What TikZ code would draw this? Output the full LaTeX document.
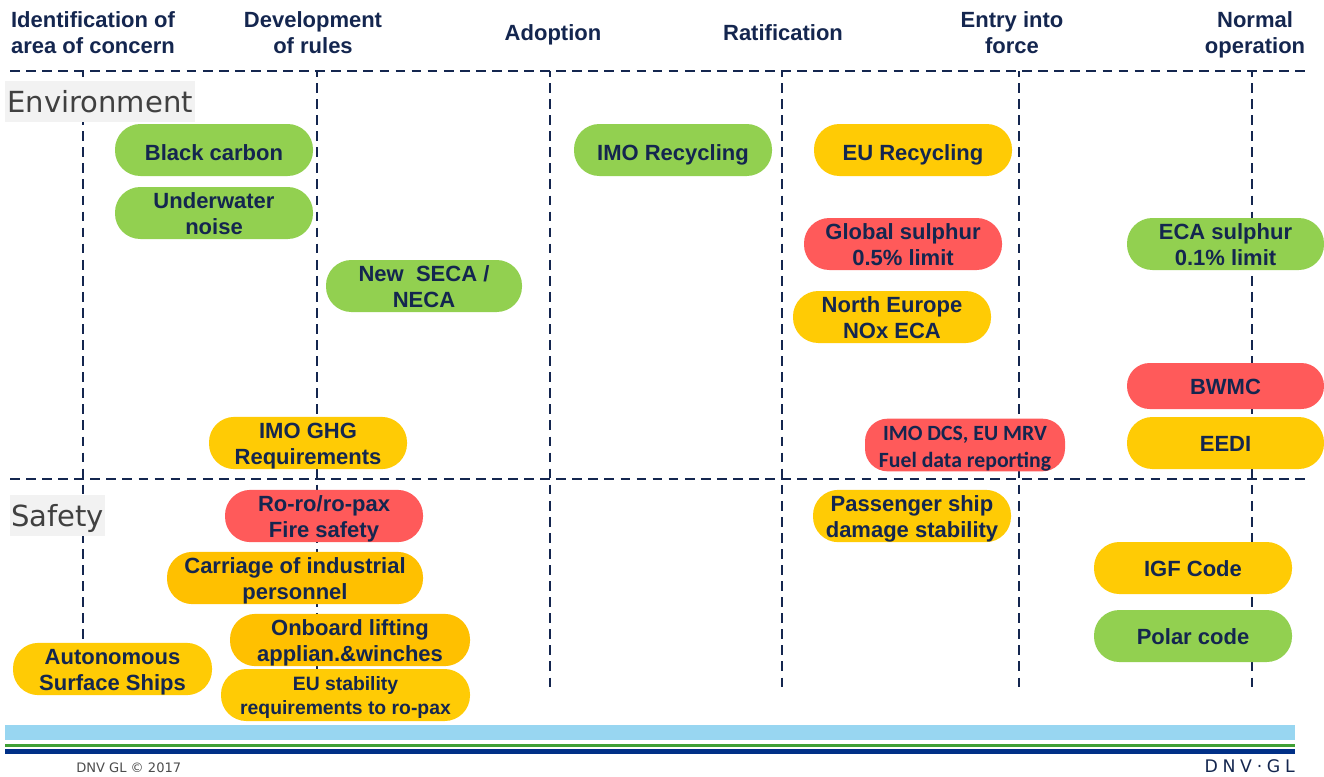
\documentclass[tikz,border=0pt]{standalone}
\usepackage{fontspec}
\setmainfont{Liberation Sans}
\newfontfamily\carlfont{Carlito}
\newfontfamily\tagfont{DejaVu Sans}
\newfontfamily\logofont[LetterSpace=27]{DejaVu Sans}
\definecolor{navy}{HTML}{14264F}
\definecolor{grn}{HTML}{92D050}
\definecolor{org}{HTML}{FFCB05}
\definecolor{orgb}{HTML}{FFC000}
\definecolor{rd}{HTML}{FF5A5A}
\definecolor{barblue}{RGB}{152,214,241}
\definecolor{bargreen}{RGB}{64,160,53}
\definecolor{barnavy}{RGB}{0,48,135}
\lineskiplimit=-100pt
\newcommand\st{\rule[-3.25pt]{0pt}{19.5pt}}
\newcommand\sto{\rule[-5pt]{0pt}{25pt}}
\newcommand\sth{\rule[-4.5pt]{0pt}{20.2pt}}
\newcommand\sts{\rule[-3.75pt]{0pt}{18pt}}
\newcommand\stt{\rule[-5pt]{0pt}{27pt}}
\tikzset{
  x=0.75pt,y=-0.75pt,
  grid/.style={navy,line width=1.7pt,dash pattern=on 7.3pt off 4.75pt},
  vgrid/.style={grid,dash phase=3pt},
  head/.style={text=navy,font=\bfseries\fontsize{16.5pt}{20.2pt}\selectfont,align=center,inner sep=0pt},
  pill/.style n args={2}{rounded corners=19pt,minimum width=#1*0.75pt,minimum height=#2*0.75pt,inner sep=0pt,text=navy,align=center,font=\bfseries\fontsize{16.5pt}{19.5pt}\selectfont},
  tag/.style={fill=black!5,text=black!75,inner sep=0pt,font=\tagfont\fontsize{21.8pt}{24pt}\selectfont},
  bar/.style={inner sep=0pt,minimum width=967.5pt},
}
\begin{document}
\begin{tikzpicture}
\useasboundingbox (0,0) rectangle (1324,776);
% grid coordinates
\coordinate (hl1) at (10,71); \coordinate (hr1) at (1305,71);
\coordinate (hl2) at (10,479); \coordinate (hr2) at (1305,479);
\foreach \n/\x in {a/83,b/317,c/550,d/782,e/1019,f/1252}{
  \coordinate (\n t) at (\x,71); \coordinate (\n b) at (\x,688);
  \draw[vgrid] (\n t) -- (\n b);
}
\draw[grid] (hl1) -- (hr1);
\draw[grid] (hl2) -- (hr2);
% headers
\node[head] (h1) at (93,33) {\sth Identification of\\\sth area of concern};
\node[head] (h2) at (313,33) {\sth Development\\\sth of rules};
\node[head] (h3) at (553,33) {\sth Adoption};
\node[head] (h4) at (783,33) {\sth Ratification};
\node[head] (h5) at (1012,33) {\sth Entry into\\\sth force};
\node[head] (h6) at (1255,33) {\sth Normal\\\sth operation};
% section tags
\node[tag,minimum width=142.5pt,minimum height=30.75pt] (env) at (100,101.5) {\stt Environment};
\node[tag,minimum width=71.25pt,minimum height=30.75pt] (saf) at (57.5,515.5) {\stt Safety};
% pills
\node[pill={198}{52},fill=grn] (p1) at (214,150) {\sto Black carbon};
\node[pill={198}{52},fill=grn] (p2) at (214,213) {\st Underwater\\\st noise};
\node[pill={196}{52},fill=grn] (p3) at (424,286) {\st New\ \ SECA /\\\st NECA};
\node[pill={198}{52},fill=grn] (p4) at (673,150) {\sto IMO Recycling};
\node[pill={198}{52},fill=org] (p5) at (913,150) {\sto EU Recycling};
\node[pill={198}{52},fill=rd] (p6) at (903,244) {\st Global sulphur\\\st 0.5\% limit};
\node[pill={198}{52},fill=org] (p7) at (892,317) {\st North Europe\\\st NOx ECA};
\node[pill={197}{52},fill=grn] (p8) at (1225.5,244) {\st ECA sulphur\\\st 0.1\% limit};
\node[pill={197}{46},fill=rd,rounded corners=17pt] (p9) at (1225.5,386) {\st BWMC};
\node[pill={197}{52},fill=org] (p10) at (1225.5,443) {\st EEDI};
\node[pill={198}{52},fill=org] (p11) at (308,443) {\st IMO GHG\\\st Requirements};
\node[pill={200}{48},fill=rd,rounded corners=17pt,font=\carlfont\bfseries\fontsize{16.3pt}{20pt}\selectfont] (p12) at (965,445) {\st IMO DCS, EU MRV\\\st Fuel data reporting};
\node[pill={198}{52},fill=rd] (p13) at (324,516) {\st Ro-ro/ro-pax\\\st Fire safety};
\node[pill={198}{52},fill=org] (p14) at (912,516) {\st Passenger ship\\\st damage stability};
\node[pill={256}{52},fill=orgb] (p15) at (295,578) {\st Carriage of industrial\\\st personnel};
\node[pill={198}{52},fill=org] (p16) at (1193,568) {\st IGF Code};
\node[pill={198}{52},fill=grn] (p17) at (1193,636) {\st Polar code};
\node[pill={240}{52},fill=orgb] (p18) at (350,640) {\st Onboard lifting\\\st applian.\&winches};
\node[pill={199}{52},fill=org] (p19) at (112.5,669) {\st Autonomous\\\st Surface Ships};
\node[pill={249}{52},fill=org,font=\bfseries\fontsize{14.5pt}{18pt}\selectfont] (p20) at (345.5,695) {\sts EU stability\\\sts requirements to ro-pax};
% footer bars
\node[bar,fill=barblue,minimum height=11.25pt] (b1) at (650,732.5) {};
\node[bar,fill=bargreen,minimum height=2.6pt] (b2) at (650,745.5) {};
\node[bar,fill=barnavy,minimum height=3.75pt] (b3) at (650,751.5) {};
\node[anchor=west,inner sep=0pt,text=black!70,font=\tagfont\fontsize{9.8pt}{11pt}\selectfont] (ft) at (76,768) {DNV GL © 2017};
\node[anchor=east,inner sep=0pt,text=navy,font=\logofont\fontsize{13pt}{14pt}\selectfont] (logo) at (1295,766.5) {DNV·GL};
\end{tikzpicture}
\end{document}
